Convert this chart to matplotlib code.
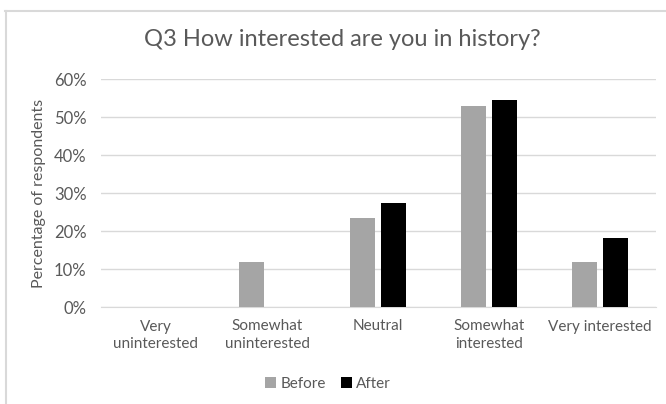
import matplotlib
matplotlib.use("Agg")
import matplotlib.pyplot as plt
import numpy as np
from matplotlib.lines import Line2D
from matplotlib.ticker import PercentFormatter

# ── Survey data (share of respondents) ──
categories = ["Very\nuninterested", "Somewhat\nuninterested", "Neutral",
              "Somewhat\ninterested", "Very interested"]
before = [0.0, 0.118, 0.235, 0.529, 0.118]
after = [0.0, 0.0, 0.273, 0.545, 0.182]

GREY = '#A5A5A5'
TEXT = '#595959'
GRID = '#D9D9D9'

plt.rcParams['font.family'] = ['Lato', 'DejaVu Sans']

W, H = 666, 404
fig = plt.figure(figsize=(W / 100, H / 100), dpi=100)

# chart frame (only top and left edges visible)
fig.add_artist(Line2D([5 / W, 1], [1 - 11 / H, 1 - 11 / H], color=GRID, lw=1.5))
fig.add_artist(Line2D([6 / W, 6 / W], [0, 1 - 11 / H], color=GRID, lw=1.5))

ax = fig.add_axes([100.5 / W, 97 / H, 555 / W, 228 / H])

x = np.arange(len(categories))
bw = 0.225
off = bw / 2 + 0.027
ax.bar(x - off, before, bw, color=GREY, label='Before', zorder=3)
ax.bar(x + off, after, bw, color='black', label='After', zorder=3)

ax.set_xlim(-0.5, len(categories) - 0.5)
ax.set_ylim(0, 0.6)
ax.set_yticks(np.arange(0, 0.61, 0.1))
ax.yaxis.set_major_formatter(PercentFormatter(1.0, decimals=0))
ax.grid(axis='y', color=GRID, linewidth=1.0, zorder=0)
ax.set_xticks(x)
ax.set_xticklabels(categories, fontsize=11, color=TEXT, linespacing=1.35)
ax.tick_params(axis='both', length=0, labelcolor=TEXT)
ax.tick_params(axis='x', pad=9, labelsize=11)
ax.tick_params(axis='y', pad=10, labelsize=12)
for s in ['top', 'right', 'left']:
    ax.spines[s].set_visible(False)
ax.spines['bottom'].set_color(GRID)

ax.set_ylabel("Percentage of respondents", fontsize=11.5, color=TEXT, labelpad=6)

fig.text(342 / W, 1 - 40 / H, "Q3 How interested are you in history?",
         fontsize=17, color=TEXT, ha='center', va='center')

fig.legend(loc='center', bbox_to_anchor=(328 / W, 20 / H), ncol=2, frameon=False,
           fontsize=11, labelcolor=TEXT, handlelength=0.7, handleheight=0.7,
           handletextpad=0.3, columnspacing=1.0)

fig.savefig("out.png", dpi=100)
